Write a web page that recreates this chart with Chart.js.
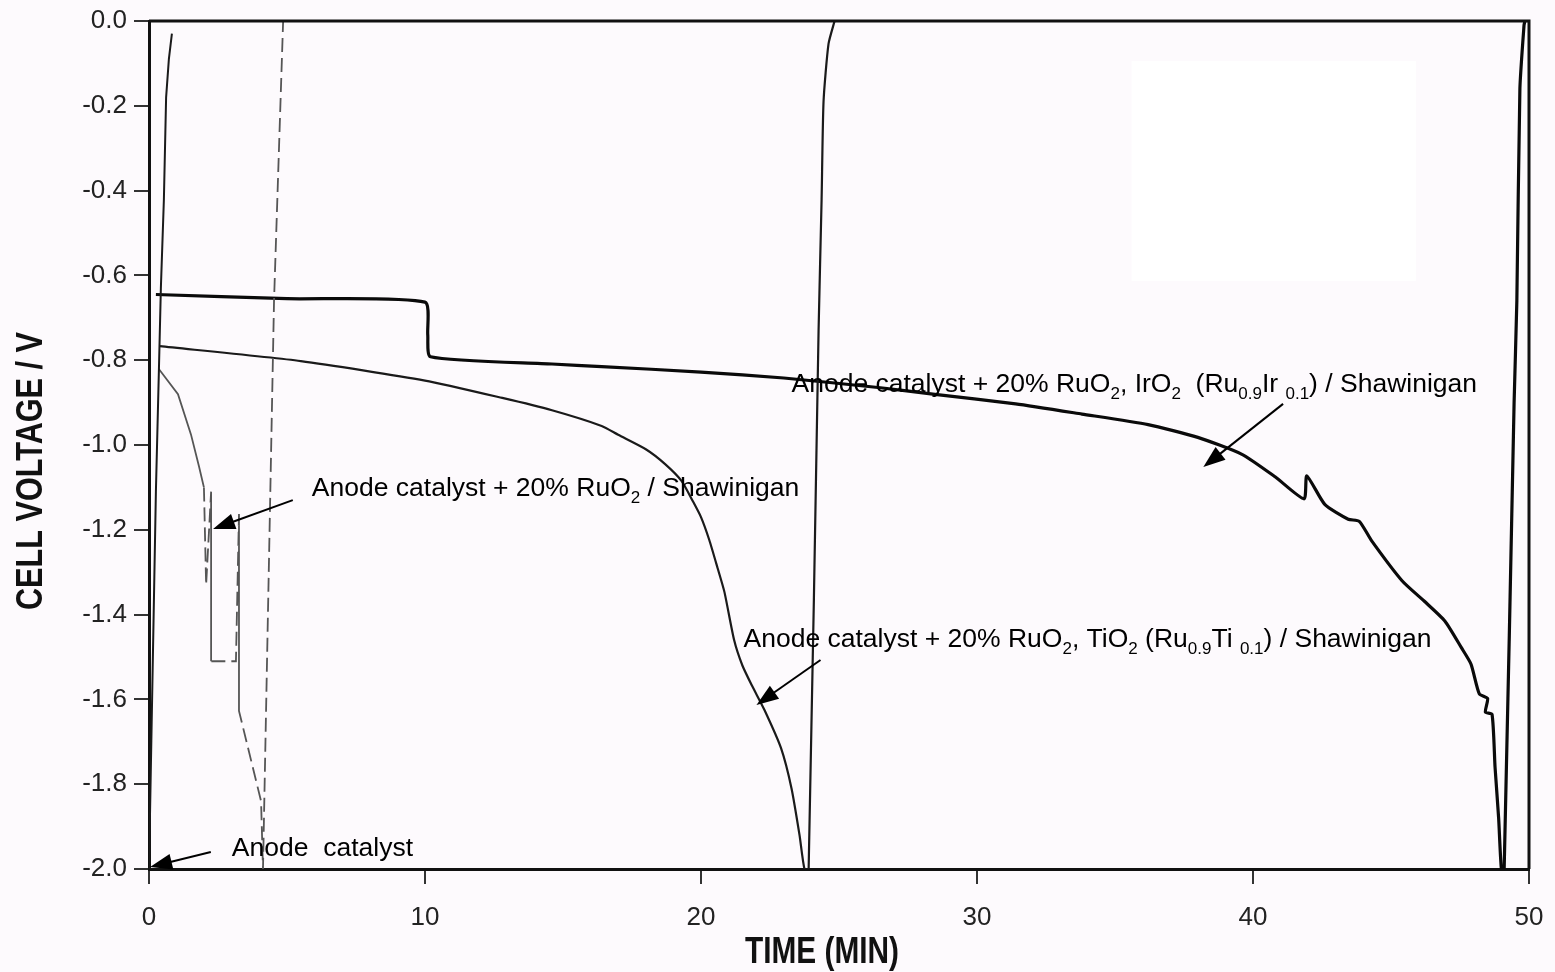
<!DOCTYPE html>
<html>
<head>
<meta charset="utf-8">
<script src="https://cdn.jsdelivr.net/npm/chart.js@4.4.1/dist/chart.umd.min.js"></script>
<style>
  html, body { margin: 0; padding: 0; background: #fdfafd; }
  #wrap { width: 1555px; height: 972px; }
</style>
</head>
<body>
<div id="wrap"><canvas id="chart" width="1555" height="972"></canvas></div>
<script>
// time in minutes, cell voltage in volts
const xTicks = [0, 10, 20, 30, 40, 50];
const yTicks = [0, -0.2, -0.4, -0.6, -0.8, -1.0, -1.2, -1.4, -1.6, -1.8, -2.0];

// Anode catalyst (drops straight to -2 V, recovery trace)
const anodeX = [0, 0.25, 0.36, 0.43, 0.54, 0.62, 0.72, 0.83];
const anodeY = [-2.0, -1.11, -0.82, -0.63, -0.42, -0.18, -0.09, -0.03];

// Anode catalyst + 20% RuO2 / Shawinigan
const ruoX = [0.35, 1.05, 1.52, 1.81, 1.99, 2.07, 2.25, 2.25, 3.15, 3.26, 3.26, 4.06, 4.13, 4.53, 4.86];
const ruoY = [-0.82, -0.88, -0.975, -1.05, -1.10, -1.33, -1.11, -1.51, -1.51, -1.163, -1.627, -1.84, -2.0, -0.66, 0];

// Anode catalyst + 20% RuO2, TiO2 (Ru0.9Ti0.1) / Shawinigan
const ruTiX = [0.4, 5.5, 10.0, 12.8, 14.6, 16.4, 17.0, 18.0, 18.7, 19.3, 19.7, 20.0, 20.3, 20.6, 20.85, 21.2, 21.5, 21.85, 22.3, 22.9, 23.28, 23.57, 23.75, 23.9, 24.26, 24.37, 24.44, 24.62, 24.84];
const ruTiY = [-0.767, -0.802, -0.848, -0.889, -0.918, -0.955, -0.976, -1.01, -1.045, -1.085, -1.132, -1.17, -1.224, -1.29, -1.347, -1.46, -1.52, -1.568, -1.625, -1.715, -1.81, -1.92, -2.0, -2.0, -0.73, -0.42, -0.19, -0.054, 0];

// Anode catalyst + 20% RuO2, IrO2 (Ru0.9Ir0.1) / Shawinigan
const ruIrX = [0.25, 5.0, 10.0, 10.1, 10.2, 14.6, 16.4, 20.0, 23.0, 26.5, 28.4, 31.4, 33.8, 36.2, 38.0, 39.6, 40.8, 41.85, 41.95, 42.6, 43.45, 43.85, 44.3, 45.4, 46.2, 46.95, 47.55, 47.9, 48.2, 48.5, 48.42, 48.66, 48.77, 48.9, 49.0, 49.1, 49.46, 49.56, 49.67, 49.82, 49.85];
const ruIrY = [-0.645, -0.655, -0.663, -0.74, -0.792, -0.809, -0.815, -0.828, -0.842, -0.865, -0.88, -0.903, -0.927, -0.952, -0.982, -1.022, -1.075, -1.127, -1.073, -1.14, -1.175, -1.18, -1.226, -1.32, -1.368, -1.415, -1.478, -1.517, -1.587, -1.598, -1.63, -1.635, -1.76, -1.88, -2.0, -2.0, -0.9, -0.66, -0.16, -0.01, 0];

// annotation texts, parts flagged sub are subscripts
const labelRuO = [["Anode catalyst + 20% RuO"], ["2", 1], [" / Shawinigan"]];
const labelRuIr = [["Anode catalyst + 20% RuO"], ["2", 1], [", IrO"], ["2", 1], ["  (Ru"], ["0.9", 1], ["Ir "], ["0.1", 1], [") / Shawinigan"]];
const labelRuTi = [["Anode catalyst + 20% RuO"], ["2", 1], [", TiO"], ["2", 1], [" (Ru"], ["0.9", 1], ["Ti "], ["0.1", 1], [") / Shawinigan"]];
const labelAnode = [["Anode  catalyst"]];

function zip(xs, ys) {
  return xs.map((x, i) => ({ x: x, y: ys[i] }));
}

const TEXT_FONT = "26.5px 'Liberation Sans', Arial, sans-serif";
const SUB_FONT = "17px 'Liberation Sans', Arial, sans-serif";
const TITLE_FAMILY = "'Liberation Sans Narrow', 'Liberation Sans', Arial, sans-serif";

// text anchors and arrows, given in axis units
const notes = [
  { parts: labelRuO, at: [5.9, -1.12], from: [5.21, -1.13], to: [2.32, -1.198] },
  { parts: labelRuIr, at: [23.28, -0.875], from: [41.09, -0.903], to: [38.2, -1.052] },
  { parts: labelRuTi, at: [21.54, -1.476], from: [24.33, -1.507], to: [22.01, -1.613] },
  { parts: labelAnode, at: [3.0, -1.969], from: [2.24, -1.96], to: [0.04, -1.995] },
];

function drawRich(ctx, parts, x, y) {
  let cx = x;
  parts.forEach((p) => {
    ctx.font = p[1] ? SUB_FONT : TEXT_FONT;
    ctx.fillText(p[0], cx, p[1] ? y + 7 : y);
    cx += ctx.measureText(p[0]).width;
  });
}

function drawArrow(ctx, x1, y1, x2, y2) {
  const ang = Math.atan2(y2 - y1, x2 - x1);
  const len = 22, half = 8;
  ctx.beginPath();
  ctx.moveTo(x1, y1);
  ctx.lineTo(x2 - Math.cos(ang) * len * 0.8, y2 - Math.sin(ang) * len * 0.8);
  ctx.stroke();
  ctx.beginPath();
  ctx.moveTo(x2, y2);
  ctx.lineTo(x2 - Math.cos(ang) * len + Math.sin(ang) * half, y2 - Math.sin(ang) * len - Math.cos(ang) * half);
  ctx.lineTo(x2 - Math.cos(ang) * len - Math.sin(ang) * half, y2 - Math.sin(ang) * len + Math.cos(ang) * half);
  ctx.closePath();
  ctx.fill();
}

// draws text squeezed to a given width if needed
function drawFitted(ctx, text, cx, cy, maxW, rot) {
  ctx.save();
  ctx.translate(cx, cy);
  if (rot) ctx.rotate(rot);
  const w = ctx.measureText(text).width;
  if (w > maxW) ctx.scale(maxW / w, 1);
  ctx.textAlign = "center";
  ctx.textBaseline = "middle";
  ctx.fillText(text, 0, 0);
  ctx.restore();
}

const decorations = {
  id: "decorations",
  beforeDatasetsDraw(chart) {
    const { ctx, scales: { x, y } } = chart;
    // whited-out patch of the scanned figure
    ctx.save();
    ctx.fillStyle = "#ffffff";
    const l = x.getPixelForValue(35.6), r = x.getPixelForValue(45.9);
    const t = y.getPixelForValue(-0.094), b = y.getPixelForValue(-0.613);
    ctx.fillRect(l, t, r - l, b - t);
    ctx.restore();
  },
  afterDatasetsDraw(chart) {
    const { ctx, chartArea: a, scales: { x, y } } = chart;
    ctx.save();
    ctx.strokeStyle = "#111";
    ctx.lineWidth = 3;
    ctx.beginPath();
    ctx.moveTo(a.left, a.top);
    ctx.lineTo(a.right, a.top);
    ctx.lineTo(a.right, a.bottom);
    ctx.stroke();

    ctx.fillStyle = "#000";
    ctx.strokeStyle = "#000";
    ctx.lineWidth = 2;
    ctx.textAlign = "left";
    ctx.textBaseline = "alphabetic";
    notes.forEach((n) => {
      drawRich(ctx, n.parts, x.getPixelForValue(n.at[0]), y.getPixelForValue(n.at[1]));
      drawArrow(ctx,
        x.getPixelForValue(n.from[0]), y.getPixelForValue(n.from[1]),
        x.getPixelForValue(n.to[0]), y.getPixelForValue(n.to[1]));
    });

    ctx.fillStyle = "#111";
    ctx.font = "bold 37px " + TITLE_FAMILY;
    drawFitted(ctx, "CELL VOLTAGE / V", 32, 471, 278, -Math.PI / 2);
    ctx.font = "bold 36px " + TITLE_FAMILY;
    drawFitted(ctx, "TIME (MIN)", 822, 953, 154, 0);
    ctx.restore();
  },
};

const tickFont = { family: "'Liberation Sans', Arial, sans-serif", size: 26 };

new Chart(document.getElementById("chart"), {
  type: "line",
  data: {
    datasets: [
      { data: zip(anodeX, anodeY), borderColor: "#1a1a1a", borderWidth: 2 },
      {
        data: zip(ruoX, ruoY), borderColor: "#555", borderWidth: 1.8,
        segment: { borderDash: (c) => (c.p0DataIndex >= 4 ? [14, 6] : undefined) },
      },
      { data: zip(ruTiX, ruTiY), borderColor: "#1a1a1a", borderWidth: 2.2, tension: 0.2 },
      { data: zip(ruIrX, ruIrY), borderColor: "#0a0a0a", borderWidth: 3.2, tension: 0.2 },
    ],
  },
  options: {
    responsive: false,
    animation: false,
    layout: { padding: { top: 21, right: 26, left: 0, bottom: 0 } },
    elements: { point: { radius: 0 }, line: { tension: 0, fill: false } },
    plugins: { legend: { display: false }, tooltip: { enabled: false } },
    scales: {
      x: {
        type: "linear", min: 0, max: 50,
        afterBuildTicks: (s) => { s.ticks = xTicks.map((v) => ({ value: v })); },
        afterFit: (s) => { s.height = 103; s.paddingLeft = 0; s.paddingRight = 0; },
        ticks: { font: tickFont, color: "#222", padding: 18, maxRotation: 0, callback: (v) => String(v) },
        grid: { drawOnChartArea: false, tickLength: 15, color: "#333", lineWidth: 2 },
        border: { color: "#111", width: 3 },
      },
      y: {
        type: "linear", min: -2, max: 0,
        afterBuildTicks: (s) => { s.ticks = yTicks.map((v) => ({ value: v })); },
        afterFit: (s) => { s.width = 149; s.paddingTop = 0; s.paddingBottom = 0; },
        ticks: { font: tickFont, color: "#222", padding: 7, callback: (v) => (Math.abs(v) < 1e-9 ? 0 : v).toFixed(1) },
        grid: { drawOnChartArea: false, tickLength: 15, color: "#333", lineWidth: 2 },
        border: { color: "#111", width: 3 },
      },
    },
  },
  plugins: [decorations],
});
</script>
</body>
</html>
